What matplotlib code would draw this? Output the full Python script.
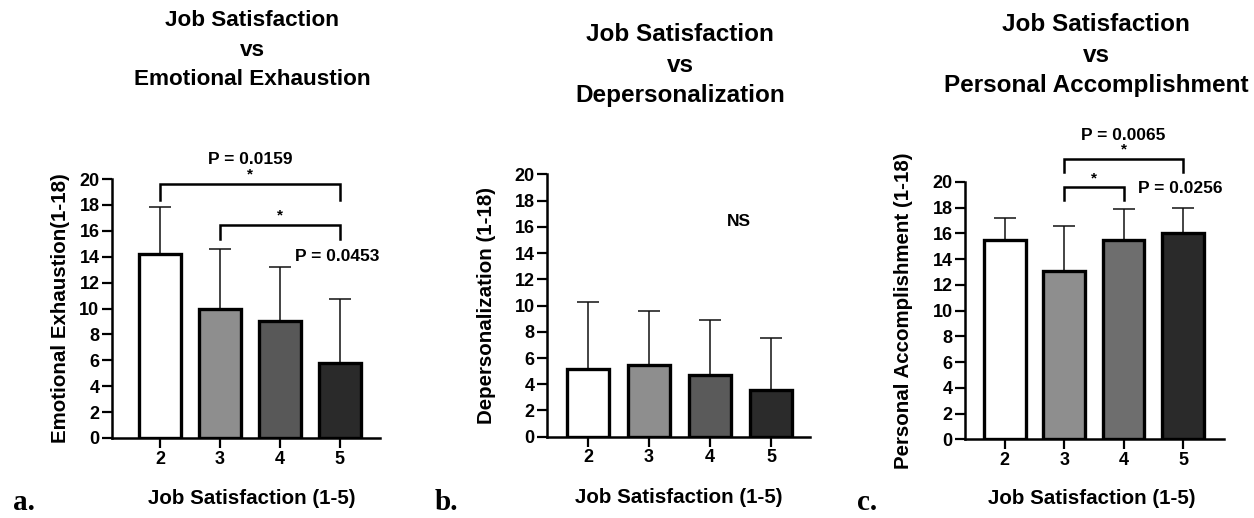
import matplotlib
matplotlib.use("Agg")
import matplotlib.pyplot as plt
import numpy as np

plt.rcParams['font.family'] = ['Liberation Sans', 'DejaVu Sans']
plt.rcParams['font.weight'] = 'bold'

categories = ['2', '3', '4', '5']

# Emotional exhaustion
ee_mean = [14.2, 10.0, 9.0, 5.8]
ee_sd = [3.6, 4.6, 4.2, 4.9]
# Depersonalization
dp_mean = [5.2, 5.5, 4.7, 3.6]
dp_sd = [5.1, 4.1, 4.2, 3.9]
# Personal accomplishment
pa_mean = [15.5, 13.1, 15.5, 16.0]
pa_sd = [1.7, 3.5, 2.4, 2.0]

yticks = list(range(0, 21, 2))

titles = ["Job Satisfaction\nvs\nEmotional Exhaustion",
          "Job Satisfaction\nvs\nDepersonalization",
          "Job Satisfaction\nvs\nPersonal Accomplishment"]
ylabels = ["Emotional Exhaustion(1-18)",
           "Depersonalization (1-18)",
           "Personal Accomplishment (1-18)"]
xlabel = "Job Satisfaction (1-5)"
panel_letters = ["a.", "b.", "c."]

W, H = 1254, 518
fig = plt.figure(figsize=(W / 100, H / 100), dpi=100)


def px_axes(left, right, y0, y20):
    return fig.add_axes([left / W, (H - y0) / H, (right - left) / W, (y0 - y20) / H])


panels = [
    dict(box=(112, 380, 438, 179), xlim=(1.2, 5.67), mean=ee_mean, sd=ee_sd,
         colors=['#ffffff', '#8e8e8e', '#585858', '#2a2a2a'],
         ylab_x=-0.155, xlab=(0.52, -0.195), title=(252, 50, 16.2, 1.56)),
    dict(box=(547, 810, 436.7, 174.5), xlim=(1.33, 5.64), mean=dp_mean, sd=dp_sd,
         colors=['#ffffff', '#8e8e8e', '#5a5a5a', '#2b2b2b'],
         ylab_x=-0.195, xlab=(0.50, -0.195), title=(680, 65, 17.5, 1.42)),
    dict(box=(965, 1224, 439.3, 182), xlim=(1.33, 5.69), mean=pa_mean, sd=pa_sd,
         colors=['#ffffff', '#8e8e8e', '#6e6e6e', '#2a2a2a'],
         ylab_x=-0.20, xlab=(0.49, -0.195), title=(1096, 55, 17.5, 1.42)),
]

axes = []
for i, p in enumerate(panels):
    ax = px_axes(*p['box'])
    axes.append(ax)
    x = np.arange(2, 6)
    mean = np.array(p['mean'])
    sd = np.array(p['sd'])
    ax.errorbar(x, mean, yerr=[np.zeros_like(sd), sd], fmt='none',
                ecolor='#111111', elinewidth=1.1, capsize=8, capthick=1.1, zorder=1)
    ax.bar(x, mean, width=0.7, color=p['colors'], edgecolor='black',
           linewidth=2.4, zorder=2)
    ax.set_xlim(*p['xlim'])
    ax.set_ylim(0, 20)
    ax.set_yticks(yticks)
    ax.set_xticks(x)
    ax.set_xticklabels(categories)
    ax.tick_params(axis='both', labelsize=13, width=1.6, length=7, pad=2)
    for lab in ax.get_xticklabels() + ax.get_yticklabels():
        lab.set_fontweight('bold')
    for s in ['top', 'right']:
        ax.spines[s].set_visible(False)
    for s in ['left', 'bottom']:
        ax.spines[s].set_linewidth(1.8)
    ax.set_ylabel(ylabels[i], fontsize=14.8, fontweight='bold')
    ax.yaxis.set_label_coords(p['ylab_x'], 0.5)
    ax.set_xlabel(xlabel, fontsize=14.8, fontweight='bold')
    ax.xaxis.set_label_coords(*p['xlab'])
    tx, ty, tfs, tls = p['title']
    fig.text(tx / W, (H - ty) / H, titles[i], ha='center', va='center',
             fontsize=tfs, fontweight='bold', linespacing=tls)

letter_x = [13, 435, 857]
for lx, letter in zip(letter_x, panel_letters):
    fig.text(lx / W, 2 / H, letter, ha='left', va='bottom',
             fontsize=21, fontweight='bold', family=['Liberation Serif', 'DejaVu Serif'])


def bracket(ax, x1, x2, y, drop, star_y):
    ax.plot([x1, x1, x2, x2], [y - drop, y, y, y - drop], color='black',
            linewidth=1.8, clip_on=False, zorder=3, solid_joinstyle='miter')
    ax.text((x1 + x2) / 2, star_y, '*', ha='center', va='center',
            fontsize=11, fontweight='bold', clip_on=False)


# Panel a annotations
ax = axes[0]
bracket(ax, 2, 5, 19.6, 1.2, 20.35)
ax.text(3.5, 21.5, 'P = 0.0159', ha='center', va='center', fontsize=12.5, fontweight='bold')
bracket(ax, 3, 5, 16.45, 1.05, 17.15)
ax.text(4.95, 14.05, 'P = 0.0453', ha='center', va='center', fontsize=12.5, fontweight='bold')

# Panel b annotation
axes[1].text(4.47, 16.4, 'NS', ha='center', va='center', fontsize=12.5, fontweight='bold')

# Panel c annotations
ax = axes[2]
bracket(ax, 3, 5, 21.8, 1.0, 22.5)
ax.text(4.0, 23.6, 'P = 0.0065', ha='center', va='center', fontsize=12.5, fontweight='bold',
        clip_on=False)
bracket(ax, 3, 4, 19.6, 1.0, 20.25)
ax.text(4.24, 19.5, 'P = 0.0256', ha='left', va='center', fontsize=12.5, fontweight='bold')

fig.savefig('out.png', dpi=100, facecolor='white')
